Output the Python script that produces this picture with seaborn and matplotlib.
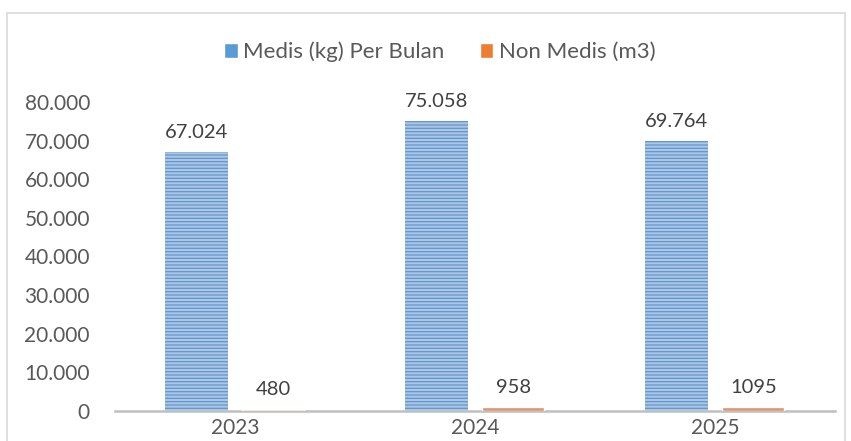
import pandas as pd
import matplotlib.pyplot as plt
import seaborn as sns
from matplotlib.patches import Rectangle

# Data
years = ["2023", "2024", "2025"]
medis = [67024, 75058, 69764]
non_medis = [480, 958, 1095]
medis_labels = ["67.024", "75.058", "69.764"]
non_medis_labels = ["480", "958", "1095"]
series = ["Medis (kg) Per Bulan", "Non Medis (m3)"]
y_ticks = [0, 10000, 20000, 30000, 40000, 50000, 60000, 70000, 80000]
y_tick_labels = ["0", "10.000", "20.000", "30.000", "40.000", "50.000", "60.000", "70.000", "80.000"]

df = pd.DataFrame({
    "Tahun": years * 2,
    "Nilai": medis + non_medis,
    "Jenis": [series[0]] * 3 + [series[1]] * 3,
})

sns.set_style("white")
plt.rcParams["font.family"] = ["Lato", "DejaVu Sans"]
plt.rcParams["hatch.linewidth"] = 0.9

fig = plt.figure(figsize=(8.51, 4.41), dpi=100)
ax = fig.add_axes([0.135, 0.068, 0.846, 0.701])

blue = "#a4c6ea"
orange = "#ea9060"
sns.barplot(data=df, x="Tahun", y="Nilai", hue="Jenis", order=years,
            hue_order=series, palette=[blue, orange], width=0.64, gap=0.19,
            ax=ax, legend=False, zorder=3)

# striped blue bars, pale first orange bar
for p in ax.containers[0]:
    p.set_hatch("-----")
    p.set_edgecolor("#5f95d2")
    p.set_linewidth(0)
ax.containers[1][0].set_facecolor("#fad3b8")

ax.bar_label(ax.containers[0], labels=medis_labels, padding=8,
             fontsize=14.5, color="#404040")
ax.bar_label(ax.containers[1], labels=non_medis_labels, padding=8,
             fontsize=14.5, color="#404040")

ax.set_ylim(0, 80000)
ax.set_yticks(y_ticks)
ax.set_yticklabels(y_tick_labels)
ax.set_xlabel("")
ax.set_ylabel("")
ax.tick_params(axis="both", length=0, labelsize=15, colors="#595959")
ax.tick_params(axis="y", pad=18)
ax.tick_params(axis="x", pad=5)
for s in ["top", "right", "left"]:
    ax.spines[s].set_visible(False)
ax.spines["bottom"].set_color("#bfbfbf")
ax.spines["bottom"].set_linewidth(1.8)
ax.spines["bottom"].set_zorder(2)

# legend
handles = [Rectangle((0, 0), 1, 1, facecolor="#5b9bd5"),
           Rectangle((0, 0), 1, 1, facecolor="#ed7d31")]
fig.legend(handles, series, loc="center", bbox_to_anchor=(0.517, 0.882),
           ncol=2, frameon=False, fontsize=16, handlelength=0.6,
           handleheight=0.6, handletextpad=0.25, columnspacing=1.6,
           labelcolor="#595959")

# chart border
fig.patches.append(Rectangle((7 / 851, -0.1), 838 / 851, 1.1 - 13 / 441,
                             transform=fig.transFigure, fill=False,
                             edgecolor="#d9d9d9", linewidth=1.2))

fig.savefig("out.png", dpi=100)
